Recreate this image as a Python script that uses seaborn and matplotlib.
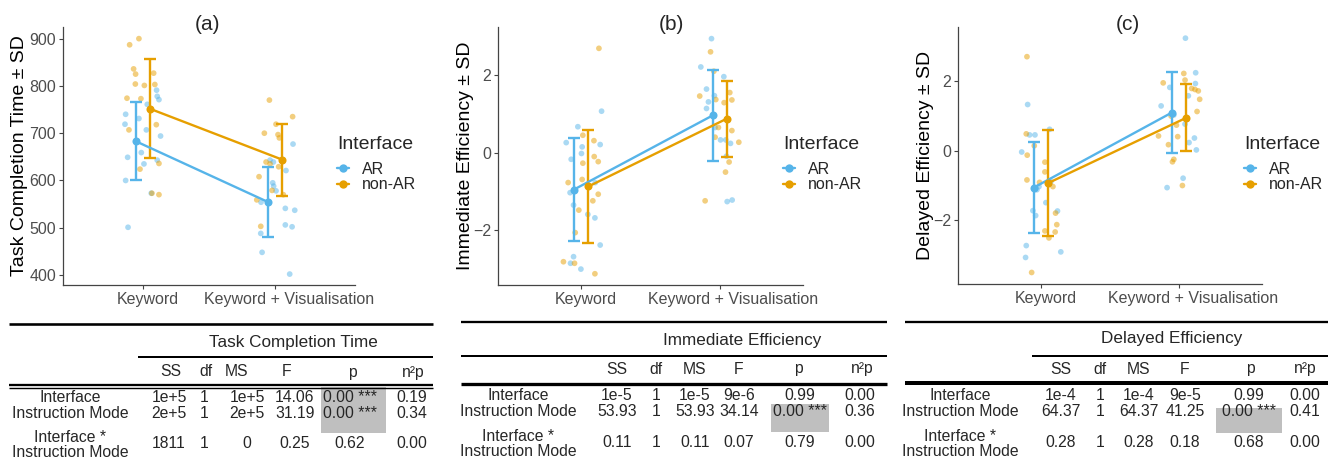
import numpy as np
import pandas as pd
import matplotlib
matplotlib.use("Agg")
import matplotlib.pyplot as plt
import matplotlib.transforms as mtransforms
import seaborn as sns
from matplotlib.lines import Line2D
from matplotlib.patches import Rectangle

sns.set_theme(style="white")
plt.rcParams['font.family'] = ['Liberation Sans', 'DejaVu Sans']

# ---------------- data ----------------
modes = ["Keyword", "Keyword + Visualisation"]
interfaces = ["AR", "non-AR"]
palette = {"AR": "#56B4E9", "non-AR": "#E69F00"}

# (a) Task completion time: means and SD (Keyword, Keyword + Visualisation)
tct_mean = {"AR": [683, 554], "non-AR": [752, 644]}
tct_sd = {"AR": [82, 74], "non-AR": [105, 76]}
# individual points: values and horizontal jitter
tct_ar_kw = [740, 719, 731, 649, 600, 501, 707, 761, 659, 635, 791, 778, 771, 694, 643, 573]
tct_ar_kw_jit = [-0.128, -0.133, -0.028, -0.113, -0.128, -0.11, 0.028, 0.035, -0.01, 0.01, 0.105, 0.11, 0.123, 0.135, 0.11, 0.065]
tct_ar_kv = [448, 488, 643, 639, 595, 588, 554, 541, 537, 506, 502, 402, 677, 621, 578]
tct_ar_kv_jit = [-0.10, -0.11, -0.04, -0.015, -0.02, -0.013, -0.108, 0.075, 0.146, 0.075, 0.126, 0.108, 0.133, 0.08, 0.005]
tct_na_kw = [887, 900, 836, 825, 804, 774, 773, 707, 801, 827, 803, 718, 636, 624, 573, 570]
tct_na_kw_jit = [-0.098, -0.028, -0.068, -0.053, -0.055, -0.118, -0.013, -0.103, 0.013, 0.083, 0.092, 0.103, 0.123, -0.02, 0.07, 0.123]
tct_na_kv = [770, 700, 719, 697, 690, 735, 608, 629, 639, 635, 579, 559, 503, 570]
tct_na_kv_jit = [-0.045, -0.083, 0.005, 0.02, 0.03, 0.13, -0.123, 0.025, -0.07, -0.04, -0.025, -0.14, -0.11, 0.06]

# (b) Immediate efficiency
ie_mean = {"AR": [-0.95, 0.96], "non-AR": [-0.87, 0.88]}
ie_sd = {"AR": [1.32, 1.17], "non-AR": [1.46, 0.98]}
ie_ar_kw = [0.26, 0.67, 0.15, -0.02, 0.21, 1.07, -0.17, -1.03, -1.35, -1.59, -1.68, -2.38, -2.68, -2.85, -3.0, -0.77]
ie_ar_kw_jit = [-0.108, -0.024, 0.007, 0.002, 0.137, 0.147, -0.072, -0.080, -0.055, 0.048, 0.099, 0.137, -0.055, -0.077, -0.002, 0.101]
ie_ar_kv = [2.94, 2.21, 1.96, 1.64, 1.47, 1.31, 1.14, 0.33, 0.33, 0.24, -0.09, -1.26, -1.22, 0.65]
ie_ar_kv_jit = [-0.060, -0.137, 0.029, -0.096, -0.039, -0.082, -0.096, 0.005, 0.043, 0.077, 0.048, 0.053, 0.089, -0.034]
ie_na_kw = [2.69, 0.45, 0.31, -0.27, -0.10, -0.23, -0.77, -0.69, -1.07, -1.24, -1.48, -2.06, -2.81, -2.85, -3.12]
ie_na_kw_jit = [0.128, 0.012, 0.092, 0.012, 0.094, 0.123, -0.094, 0.007, 0.123, 0.084, -0.017, -0.043, -0.128, -0.048, 0.099]
ie_na_kv = [2.6, 2.1, 1.46, 1.37, 1.55, 1.36, 1.29, 0.65, 0.40, 0.57, 0.27, -0.24, -0.50, -1.24]
ie_na_kv_jit = [-0.067, -0.043, -0.145, -0.029, 0.072, 0.087, 0.031, -0.010, -0.034, 0.087, 0.137, 0.067, 0.041, -0.106]

# (c) Delayed efficiency
de_mean = {"AR": [-1.06, 1.09], "non-AR": [-0.93, 0.94]}
de_sd = {"AR": [1.31, 1.15], "non-AR": [1.52, 0.96]}
de_ar_kw = [1.32, 0.45, 0.45, 0.61, -0.04, -1.03, -1.12, -1.72, -1.86, -1.49, -1.73, -2.72, -3.06, -2.9, -0.89]
de_ar_kw_jit = [-0.096, -0.082, -0.043, 0.063, -0.139, -0.014, -0.029, -0.058, -0.038, 0.036, 0.120, -0.106, -0.111, 0.144, 0.072]
de_ar_kv = [3.22, 2.23, 1.81, 1.92, 1.57, 1.28, 1.02, 0.76, 0.36, 0.23, 0.02, -0.79, -1.06]
de_ar_kv_jit = [0.046, 0.120, -0.067, 0.118, 0.067, -0.130, -0.038, 0.043, 0.111, 0.072, 0.125, 0.029, -0.087]
de_na_kw = [2.69, 0.48, 0.14, -0.13, -0.33, -0.61, -0.84, -0.91, -1.03, -1.79, -2.12, -2.30, -2.33, -2.5, -3.49]
de_na_kw_jit = [-0.101, -0.106, -0.048, -0.099, 0.029, 0.029, -0.101, -0.010, 0.087, 0.106, 0.115, 0.029, 0.103, 0.058, -0.067]
de_na_kv = [2.21, 1.94, 2.02, 1.78, 1.75, 1.71, 1.47, 1.12, 0.99, 0.73, 0.42, 0.40, 0.17, -0.25, -0.32, -1.0]
de_na_kv_jit = [0.034, -0.115, 0.043, 0.091, 0.115, 0.139, 0.149, 0.130, -0.058, -0.019, -0.149, -0.010, -0.077, -0.038, -0.048, 0.024]

# ANOVA tables
row_labels = ["Interface", "Instruction Mode", "Interface *\nInstruction Mode"]
col_labels = ["SS", "df", "MS", "F", "p", "n²p"]
table_titles = ["Task Completion Time", "Immediate Efficiency", "Delayed Efficiency"]
tct_table = [["1e+5", "1", "1e+5", "14.06", "0.00 ***", "0.19"],
             ["2e+5", "1", "2e+5", "31.19", "0.00 ***", "0.34"],
             ["1811", "1", "0", "0.25", "0.62", "0.00"]]
ie_table = [["1e-5", "1", "1e-5", "9e-6", "0.99", "0.00"],
            ["53.93", "1", "53.93", "34.14", "0.00 ***", "0.36"],
            ["0.11", "1", "0.11", "0.07", "0.79", "0.00"]]
de_table = [["1e-4", "1", "1e-4", "9e-5", "0.99", "0.00"],
            ["64.37", "1", "64.37", "41.25", "0.00 ***", "0.41"],
            ["0.28", "1", "0.28", "0.18", "0.68", "0.00"]]

# ---------------- figure ----------------
W, H = 1328, 472
fig = plt.figure(figsize=(W / 100, H / 100), dpi=100)


def px_axes(l, t, r, b):
    return fig.add_axes([l / W, 1 - b / H, (r - l) / W, (b - t) / H])


def build_points(groups):
    recs = []
    for iface, mi, vals, jit in groups:
        for v, j in zip(vals, jit):
            recs.append({"Interface": iface, "x": mi + j, "value": v})
    return pd.DataFrame(recs)


panels = [
    dict(box=(63, 27, 355, 285), ylim=(378.9, 924.6), yticks=[400, 500, 600, 700, 800, 900],
         ylabel="Task Completion Time ± SD", title="(a)", title_x=207, leg_x=337, ylab_x=28,
         mean=tct_mean, sd=tct_sd,
         pts=build_points([("AR", 0, tct_ar_kw, tct_ar_kw_jit), ("AR", 1, tct_ar_kv, tct_ar_kv_jit),
                           ("non-AR", 0, tct_na_kw, tct_na_kw_jit), ("non-AR", 1, tct_na_kv, tct_na_kv_jit)])),
    dict(box=(498, 27, 803, 285), ylim=(-3.41, 3.24), yticks=[-2, 0, 2],
         ylabel="Immediate Efficiency ± SD", title="(b)", title_x=671, leg_x=783, ylab_x=474,
         mean=ie_mean, sd=ie_sd,
         pts=build_points([("AR", 0, ie_ar_kw, ie_ar_kw_jit), ("AR", 1, ie_ar_kv, ie_ar_kv_jit),
                           ("non-AR", 0, ie_na_kw, ie_na_kw_jit), ("non-AR", 1, ie_na_kv, ie_na_kv_jit)])),
    dict(box=(958, 27, 1262, 284), ylim=(-3.82, 3.54), yticks=[-2, 0, 2],
         ylabel="Delayed Efficiency ± SD", title="(c)", title_x=1128, leg_x=1244, ylab_x=934,
         mean=de_mean, sd=de_sd,
         pts=build_points([("AR", 0, de_ar_kw, de_ar_kw_jit), ("AR", 1, de_ar_kv, de_ar_kv_jit),
                           ("non-AR", 0, de_na_kw, de_na_kw_jit), ("non-AR", 1, de_na_kv, de_na_kv_jit)])),
]

dodge = {"AR": -0.052, "non-AR": 0.052}
axis_col = "#444444"
label_shift_pt = [3.4, 9.7]   # x tick labels sit slightly right of their ticks

for p in panels:
    l, t, r, b = p["box"]
    ax = px_axes(l, t, r, b)
    sns.scatterplot(data=p["pts"], x="x", y="value", hue="Interface", palette=palette,
                    alpha=0.5, s=17, linewidth=0, legend=False, ax=ax, zorder=2)
    for iface in interfaces:
        xs = np.arange(len(modes)) + dodge[iface]
        sns.lineplot(x=xs, y=p["mean"][iface], color=palette[iface], marker="o",
                     markersize=5.8, markeredgewidth=0, linewidth=1.7, ax=ax, zorder=4)
        ax.errorbar(xs, p["mean"][iface], yerr=p["sd"][iface], fmt="none",
                    ecolor=palette[iface], elinewidth=1.7, capsize=4.5, capthick=1.7, zorder=3)
    ax.set_xlim(-0.6, 1.6)
    ax.set_ylim(*p["ylim"])
    ax.set_xticks(range(len(modes)))
    ax.set_xticklabels(modes)
    ax.set_yticks(p["yticks"])
    ax.set_xlabel("")
    ax.set_ylabel(p["ylabel"], fontsize=14, color="black")
    ax.yaxis.set_label_coords((p["ylab_x"] - l) / (r - l), 0.5)
    for s in ["top", "right"]:
        ax.spines[s].set_visible(False)
    for s in ["left", "bottom"]:
        ax.spines[s].set_color(axis_col)
        ax.spines[s].set_linewidth(0.9)
    ax.tick_params(axis="both", length=3, width=0.8, color=axis_col, labelcolor="#4D4D4D",
                   labelsize=11.5, pad=2, bottom=True, left=True)
    for lab, dx in zip(ax.get_xticklabels(), label_shift_pt):
        lab.set_transform(lab.get_transform() +
                          mtransforms.ScaledTranslation(dx / 72, 0, fig.dpi_scale_trans))
    ax.set_facecolor("none")
    fig.text(p["title_x"] / W, 1 - 24 / H, p["title"], ha="center", va="center", fontsize=15)
    # legend: title text plus keyed entries
    fig.text(p["leg_x"] / W, 1 - 144 / H, "Interface", ha="left", va="center", fontsize=14)
    handles = [Line2D([], [], color=palette[i], marker="o", lw=1.7, ms=6, mew=0) for i in interfaces]
    ax.legend(handles, interfaces, loc="upper left",
              bbox_to_anchor=(p["leg_x"] / W, 1 - 162 / H), bbox_transform=fig.transFigure,
              frameon=False, fontsize=11.5, handlelength=0.75,
              handletextpad=0.8, labelspacing=0.02, borderpad=0, borderaxespad=0)

# ---------------- tables ----------------
ov = fig.add_axes([0, 0, 1, 1], zorder=-1)
ov.set_xlim(0, W)
ov.set_ylim(H, 0)
ov.axis("off")

tables = [tct_table, ie_table, de_table]
layouts = [
    dict(left=9, right=433, top=323.7, top_lw=2.6, title_x=293, title_y=342, under=357, under_l=138,
         head_y=372, sep=[(385.2, 2.3), (388.4, 1.4)], label_x=70, rows_y=[398, 413, 445],
         head_cols=[171, 206, 237, 287, 352, 413], val_cols=[169, 204, 247, 295, 350, 412],
         gray=(320.7, 386.0, 387.0, 432.7)),
    dict(left=461, right=887, top=321.8, top_lw=2.3, title_x=742, title_y=340, under=356.2, under_l=461,
         head_y=369, sep=[(384.3, 3.3)], label_x=518, rows_y=[396, 411, 444],
         head_cols=[617, 656, 695, 739, 798, 862], val_cols=[617, 656, 695, 739, 800, 860],
         gray=(771.0, 829.0, 404.0, 431.7)),
    dict(left=905, right=1328, top=321.7, top_lw=2.3, title_x=1172, title_y=339, under=355.7, under_l=1032,
         head_y=369, sep=[(382.7, 4.0)], label_x=960, rows_y=[396, 411, 444],
         head_cols=[1061, 1100, 1139, 1185, 1250, 1305], val_cols=[1061, 1100, 1139, 1185, 1249, 1305],
         gray=(1216.0, 1281.7, 408.0, 432.7)),
]

cell_fs = 11.3
for tab, title, lay in zip(tables, table_titles, layouts):
    ov.plot([lay["left"], lay["right"]], [lay["top"]] * 2, color="black", lw=lay["top_lw"] * 0.72,
            solid_capstyle="butt")
    ov.plot([lay["under_l"], lay["right"]], [lay["under"]] * 2, color="black", lw=2.0 * 0.72,
            solid_capstyle="butt")
    for y, w in lay["sep"]:
        ov.plot([lay["left"], lay["right"]], [y, y], color="black", lw=w * 0.72, solid_capstyle="butt")
    x0, x1, y0, y1 = lay["gray"]
    ov.add_patch(Rectangle((x0, y0), x1 - x0, y1 - y0, facecolor="#BFBFBF", edgecolor="none", zorder=0))
    ov.text(lay["title_x"], lay["title_y"], title, ha="center", va="center", fontsize=12.3)
    for cx, lab in zip(lay["head_cols"], col_labels):
        ov.text(cx, lay["head_y"], lab, ha="center", va="center", fontsize=cell_fs)
    for ri, (rl, ry) in enumerate(zip(row_labels, lay["rows_y"])):
        ov.text(lay["label_x"], ry, rl, ha="center", va="center", fontsize=cell_fs, linespacing=1.05)
        vy = ry - 1.5 if ri == 2 else ry
        for cx, val in zip(lay["val_cols"], tab[ri]):
            ov.text(cx, vy, val, ha="center", va="center", fontsize=cell_fs, zorder=2)

fig.savefig("out.png", dpi=100)
